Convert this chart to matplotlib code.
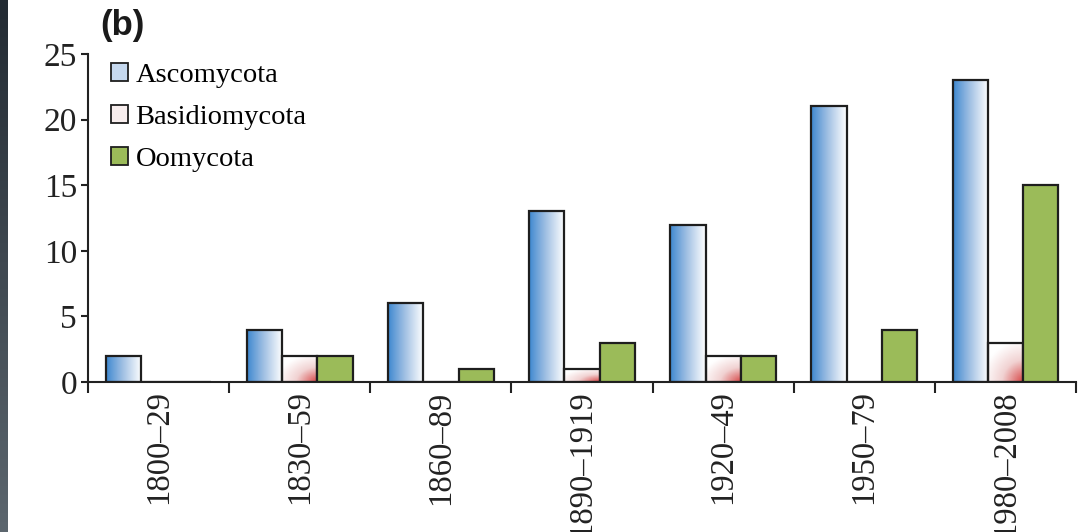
import numpy as np
import matplotlib
matplotlib.use('Agg')
import matplotlib.pyplot as plt
from matplotlib.patches import Patch
from matplotlib.colors import LinearSegmentedColormap

# 数据：各时期新发病原菌数量
periods = ['1800–29', '1830–59', '1860–89', '1890–1919', '1920–49', '1950–79', '1980–2008']
ascomycota = [2, 4, 6, 13, 12, 21, 23]
basidiomycota = [0, 2, 0, 1, 2, 0, 3]
oomycota = [0, 2, 1, 3, 2, 4, 15]

plt.rcParams['font.family'] = ['Liberation Serif', 'DejaVu Serif']

fig = plt.figure(figsize=(10.87, 5.32), dpi=100)
ax = fig.add_axes([88 / 1087, 150 / 532, 988 / 1087, 328 / 532])

# 左侧深色条
strip = fig.add_axes([0, 0, 8 / 1087, 1])
strip.imshow(np.linspace(0, 1, 256)[:, None],
             cmap=LinearSegmentedColormap.from_list('s', ['#232b33', '#5c666e']),
             aspect='auto', extent=[0, 1, 0, 1], origin='upper')
strip.axis('off')

x = np.arange(len(periods))
w = 0.25
edge = '#1e1e1e'
lw = 1.6

cmap_asco = LinearSegmentedColormap.from_list('asco', ['#3b86cf', '#9fbfe3', '#ffffff'])
cmap_basi = LinearSegmentedColormap.from_list('basi', ['#ffffff', '#f1d2d2', '#d95252'])

bars_a = ax.bar(x - w, ascomycota, w, facecolor='none', edgecolor=edge, linewidth=lw, zorder=3)
bars_b = ax.bar(x, basidiomycota, w, facecolor='none', edgecolor=edge, linewidth=lw, zorder=3)
bars_o = ax.bar(x + w, oomycota, w, facecolor='#9bbb59', edgecolor=edge, linewidth=lw, zorder=3)

u = np.linspace(0, 1, 64)
grad_a = np.tile(u ** 0.9, (8, 1))
uu, vv = np.meshgrid(np.linspace(0, 1, 64), np.linspace(1, 0, 64))
grad_b = np.clip(1.05 - np.sqrt(((1 - uu) / 1.1) ** 2 + (vv / 1.0) ** 2), 0, 1)

for bars, grad, cm in [(bars_a, grad_a, cmap_asco), (bars_b, grad_b, cmap_basi)]:
    for r in bars:
        if r.get_height() <= 0:
            continue
        bx, by, bw, bh = r.get_x(), r.get_y(), r.get_width(), r.get_height()
        im = ax.imshow(grad, cmap=cm, vmin=0, vmax=1, aspect='auto',
                       extent=[bx, bx + bw, by, by + bh], origin='upper',
                       interpolation='bilinear', zorder=2)
        im.set_clip_path(r)

ax.set_xlim(-0.5, len(periods) - 0.5)
ax.set_ylim(0, 25)
ax.set_aspect('auto')

ax.spines['top'].set_visible(False)
ax.spines['right'].set_visible(False)
for s in ['left', 'bottom']:
    ax.spines[s].set_linewidth(1.5)
    ax.spines[s].set_color('#222222')

ax.set_yticks([0, 5, 10, 15, 20, 25])
ax.tick_params(axis='y', direction='out', length=5, width=1.5, labelsize=24, pad=3, colors='#222222')

# 类别边界处刻度，中心处标签
ax.set_xticks(np.arange(-0.5, len(periods), 1.0))
ax.set_xticklabels([])
ax.tick_params(axis='x', which='major', direction='out', length=8, width=1.5, colors='#222222')
ax.set_xticks(x, minor=True)
ax.set_xticklabels(periods, minor=True, rotation=90, fontsize=23.5)
ax.tick_params(axis='x', which='minor', length=0, pad=6, colors='#222222')

handles = [Patch(facecolor='#c5d8ee', edgecolor=edge, linewidth=1.3),
           Patch(facecolor='#f7eded', edgecolor=edge, linewidth=1.3),
           Patch(facecolor='#9bbb59', edgecolor=edge, linewidth=1.3)]
ax.legend(handles, ['Ascomycota', 'Basidiomycota', 'Oomycota'],
          loc='upper left', bbox_to_anchor=(0.012, 1.008), frameon=False,
          fontsize=20.5, handlelength=0.6, handleheight=0.6, handletextpad=0.25,
          labelspacing=0.6, borderaxespad=0.0)

fig.text(100 / 1087, 1 - 9 / 532, '(b)', family='Liberation Sans', weight='bold',
         fontsize=25, va='top', ha='left', color='#1a1a1a')

fig.savefig('out.png', dpi=100)
